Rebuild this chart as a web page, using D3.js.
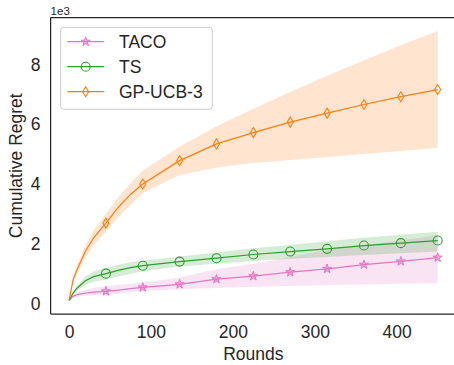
<!DOCTYPE html>
<html>
<head>
<meta charset="utf-8">
<script src="https://cdn.jsdelivr.net/npm/d3@7"></script>
<style>
  html, body { margin: 0; padding: 0; background: #fff; }
  svg { display: block; }
  text { font-family: "Liberation Sans", Arial, sans-serif; fill: #262626; }
</style>
</head>
<body>
<svg id="chart" width="454" height="365"></svg>
<script>
// ---- data ----
const rounds = [0, 5, 10, 20, 30, 45, 60, 75, 90, 135, 180, 225, 270, 315, 360, 405, 450];
const seriesNames = ["TACO", "TS", "GP-UCB-3"];

const tacoMean  = [100, 240, 300, 350, 380, 410, 450, 500, 540, 644, 815, 915, 1047, 1160, 1300, 1410, 1537];
const tacoLower = [100, 200, 230, 260, 275, 290, 330, 380, 420, 480, 520, 560, 590, 620, 640, 660, 680];
const tacoUpper = [100, 280, 380, 460, 520, 580, 620, 660, 700, 870, 1150, 1330, 1560, 1800, 1960, 2120, 2280];

const tsMean  = [100, 350, 520, 760, 900, 1000, 1110, 1200, 1265, 1403, 1517, 1640, 1738, 1829, 1940, 2020, 2107];
const tsLower = [100, 300, 440, 620, 730, 800, 900, 1000, 1080, 1235, 1330, 1420, 1500, 1560, 1620, 1680, 1740];
const tsUpper = [100, 400, 600, 900, 1070, 1200, 1300, 1380, 1430, 1570, 1710, 1850, 1960, 2080, 2200, 2300, 2400];

const ucbMean  = [100, 800, 1150, 1750, 2200, 2690, 3220, 3650, 4000, 4780, 5340, 5720, 6070, 6370, 6660, 6920, 7160];
const ucbLower = [100, 700, 1000, 1550, 1950, 2400, 2880, 3300, 3700, 4300, 4550, 4700, 4800, 4900, 5000, 5100, 5210];
const ucbUpper = [100, 900, 1300, 1950, 2450, 3000, 3560, 4020, 4450, 5250, 5930, 6520, 7080, 7620, 8140, 8640, 9120];

const xTicks = [0, 100, 200, 300, 400];
const yTicks = [0, 2000, 4000, 6000, 8000];
const yTickLabels = ["0", "2", "4", "6", "8"];
const markEvery = 45;

// ---- layout ----
const svg = d3.select("#chart");
const pLeft = 50.6, pRight = 456.1, pTop = 17.5, pBottom = 314;

const xMin = d3.min(rounds), xMax = d3.max(rounds);
const xPad = (xMax - xMin) * 0.05;
const x = d3.scaleLinear().domain([xMin - xPad, xMax + xPad]).range([pLeft, pRight]);

const allLow = d3.min([...tacoLower, ...tsLower, ...ucbLower, ...tacoMean, ...tsMean, ...ucbMean]);
const allHigh = d3.max([...tacoUpper, ...tsUpper, ...ucbUpper, ...tacoMean, ...tsMean, ...ucbMean]);
const yPad = (allHigh - allLow) * 0.05;
const y = d3.scaleLinear().domain([allLow - yPad, allHigh + yPad]).range([pBottom, pTop]);

const series = [
  { name: seriesNames[0], mean: tacoMean, lower: tacoLower, upper: tacoUpper, color: "#e377c2", marker: "star" },
  { name: seriesNames[1], mean: tsMean, lower: tsLower, upper: tsUpper, color: "#2ca02c", marker: "circle" },
  { name: seriesNames[2], mean: ucbMean, lower: ucbLower, upper: ucbUpper, color: "#ff7f0e", marker: "diamond" }
];

const clipId = "plotclip";
svg.append("defs").append("clipPath").attr("id", clipId)
  .append("rect").attr("x", pLeft).attr("y", pTop).attr("width", pRight - pLeft).attr("height", pBottom - pTop);

const plot = svg.append("g").attr("clip-path", `url(#${clipId})`);

const area = d3.area()
  .x((d, i) => x(rounds[i]))
  .y0(d => y(d[0]))
  .y1(d => y(d[1]));
const line = d3.line()
  .x((d, i) => x(rounds[i]))
  .y(d => y(d));

function drawMarker(g, type, cx, cy, color) {
  if (type === "circle") {
    g.append("circle").attr("cx", cx).attr("cy", cy).attr("r", 4.5)
      .attr("fill", "none").attr("stroke", color).attr("stroke-width", 1.1);
  } else if (type === "diamond") {
    const w = 3, h = 5;
    g.append("path")
      .attr("d", `M${cx},${cy - h}L${cx + w},${cy}L${cx},${cy + h}L${cx - w},${cy}Z`)
      .attr("fill", "none").attr("stroke", color).attr("stroke-width", 1.1);
  } else {
    g.append("path")
      .attr("d", d3.symbol().type(d3.symbolStar).size(26)())
      .attr("transform", `translate(${cx},${cy})`)
      .attr("fill", color).attr("fill-opacity", 0.55)
      .attr("stroke", color).attr("stroke-width", 1);
  }
}

series.forEach(s => {
  const bandData = s.lower.map((v, i) => [v, s.upper[i]]);
  plot.append("path").datum(bandData).attr("d", area)
    .attr("fill", s.color).attr("fill-opacity", 0.2).attr("stroke", "none");
});

series.forEach(s => {
  plot.append("path").datum(s.mean).attr("d", line)
    .attr("fill", "none").attr("stroke", s.color).attr("stroke-width", 1.25);
  rounds.forEach((r, i) => {
    if (r > 0 && r % markEvery === 0) drawMarker(plot, s.marker, x(r), y(s.mean[i]), s.color);
  });
});

// ---- spines ----
const spineColor = "#262626";
svg.append("line").attr("x1", pLeft).attr("x2", pLeft).attr("y1", pTop).attr("y2", pBottom)
  .attr("stroke", spineColor).attr("stroke-width", 1.25);
svg.append("line").attr("x1", pLeft).attr("x2", pRight).attr("y1", pBottom).attr("y2", pBottom)
  .attr("stroke", spineColor).attr("stroke-width", 1.25);
svg.append("line").attr("x1", pLeft).attr("x2", pRight).attr("y1", pTop).attr("y2", pTop)
  .attr("stroke", spineColor).attr("stroke-width", 1.25);

// ---- axes ----
const xAxis = d3.axisBottom(x).tickValues(xTicks).tickSize(0).tickPadding(12).tickFormat(d3.format("d"));
const gx = svg.append("g").attr("transform", `translate(0,${pBottom})`).call(xAxis);
gx.select(".domain").remove();
gx.selectAll("text").attr("font-size", 17.5).attr("fill", "#262626")
  .style("font-family", "'Liberation Sans', Arial, sans-serif");

const yAxis = d3.axisLeft(y).tickValues(yTicks).tickSize(0).tickPadding(10)
  .tickFormat((d, i) => yTickLabels[i]);
const gy = svg.append("g").attr("transform", `translate(${pLeft},0)`).call(yAxis);
gy.select(".domain").remove();
gy.selectAll("text").attr("font-size", 17.5).attr("fill", "#262626")
  .style("font-family", "'Liberation Sans', Arial, sans-serif");

svg.append("text").attr("x", pLeft).attr("y", 14.5).attr("font-size", 11.5).text("1e3");

svg.append("text").attr("x", (pLeft + pRight) / 2).attr("y", 360)
  .attr("text-anchor", "middle").attr("font-size", 17.5).text("Rounds");

svg.append("text").attr("transform", `translate(22,${(pTop + pBottom) / 2}) rotate(-90)`)
  .attr("text-anchor", "middle").attr("font-size", 17.5).text("Cumulative Regret");

// ---- legend ----
const lg = svg.append("g");
lg.append("rect").attr("x", 60.7).attr("y", 27.3).attr("width", 151.6).attr("height", 82)
  .attr("rx", 3).attr("fill", "#fff").attr("fill-opacity", 0.8)
  .attr("stroke", "#cccccc").attr("stroke-width", 1);
series.forEach((s, i) => {
  const cy = 41.7 + i * 25;
  lg.append("line").attr("x1", 67.3).attr("x2", 104).attr("y1", cy).attr("y2", cy)
    .attr("stroke", s.color).attr("stroke-width", 1.25);
  drawMarker(lg, s.marker, 85.7, cy, s.color);
  lg.append("text").attr("x", 119).attr("y", cy).attr("dy", "0.35em")
    .attr("font-size", 17.5).text(s.name);
});
</script>
</body>
</html>
